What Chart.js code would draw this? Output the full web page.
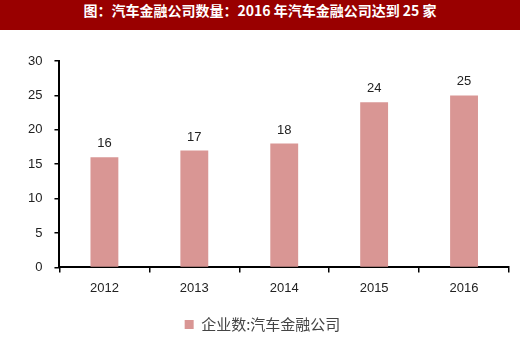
<!DOCTYPE html>
<html>
<head>
<meta charset="utf-8">
<script src="https://cdn.jsdelivr.net/npm/chart.js@4"></script>
<style>
  body { margin: 0; background: #fff; }
  #title {
    width: 520px; height: 30px; line-height: 30px;
    background: #990000; color: #fff; text-align: center;
    font: bold 14px "Noto Sans CJK SC", sans-serif;
  }
  #wrap { position: relative; width: 520px; height: 316px; }
</style>
</head>
<body>
<div id="title">图：汽车金融公司数量：2016 年汽车金融公司达到 25 家</div>
<div id="wrap"><canvas id="canvas"></canvas></div>
<script>
const years = ['2012', '2013', '2014', '2015', '2016'];
const companies = [16, 17, 18, 24, 25];
const seriesName = '企业数:汽车金融公司';
const yTicks = [0, 5, 10, 15, 20, 25, 30];

// value labels above each bar
const barLabels = {
    id: 'barLabels',
    afterDatasetsDraw(chart) {
        const ctx = chart.ctx;
        ctx.save();
        ctx.font = '13px "Liberation Sans", Arial, sans-serif';
        ctx.fillStyle = '#222';
        ctx.textAlign = 'center';
        ctx.textBaseline = 'bottom';
        chart.getDatasetMeta(0).data.forEach((bar, i) => {
            ctx.fillText(companies[i], bar.x, bar.y - 7);
        });
        ctx.restore();
    }
};

function handleChart() {
    const ctx = document.getElementById('canvas').getContext('2d');
    new Chart(ctx, {
        type: 'bar',
        data: {
            labels: years,
            datasets: [{
                label: seriesName,
                data: companies,
                backgroundColor: '#d99694',
                borderWidth: 0,
                categoryPercentage: 1,
                barPercentage: 0.31
            }]
        },
        options: {
            responsive: true,
            maintainAspectRatio: false,
            animation: false,
            layout: { padding: { top: 31, right: 11, left: 16, bottom: 4 } },
            plugins: {
                tooltip: { enabled: false },
                legend: {
                    position: 'bottom',
                    labels: {
                        boxWidth: 9, boxHeight: 9,
                        color: '#444',
                        padding: 13,
                        font: { family: '"Noto Sans CJK SC", sans-serif', size: 15 }
                    }
                }
            },
            scales: {
                x: {
                    grid: { display: true, drawOnChartArea: false, offset: true, tickLength: 5, color: '#000', lineWidth: 1.5 },
                    border: { color: '#000', width: 2 },
                    ticks: { color: '#222', padding: 8, font: { family: '"Liberation Sans", Arial, sans-serif', size: 13 } }
                },
                y: {
                    min: 0, max: 30,
                    afterBuildTicks(axis) { axis.ticks = yTicks.map(v => ({ value: v })); },
                    grid: { display: true, drawOnChartArea: false, tickLength: 5, color: '#000', lineWidth: 1.5 },
                    border: { color: '#000', width: 2 },
                    ticks: { color: '#222', padding: 12, font: { family: '"Liberation Sans", Arial, sans-serif', size: 13 } }
                }
            }
        },
        plugins: [barLabels]
    });
}
handleChart();
</script>
</body>
</html>
